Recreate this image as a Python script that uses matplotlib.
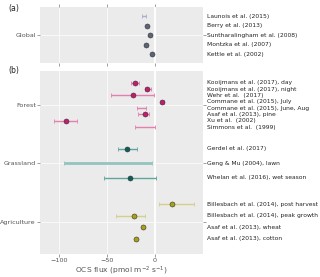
import numpy as np
import matplotlib
matplotlib.use("Agg")
import matplotlib.pyplot as plt
import matplotlib.transforms as mtransforms

# ------------------------------------------------------------
# data (OCS flux, pmol m-2 s-1); nan = no central estimate
# ------------------------------------------------------------
global_labels = ["Launois et al. (2015)", "Berry et al. (2013)",
                 "Suntharalingham et al. (2008)", "Montzka et al. (2007)",
                 "Kettle et al. (2002)"]
global_mid = [np.nan, -8.0, -4.5, -9.0, -2.4]
global_lo = [-12.9, np.nan, np.nan, np.nan, np.nan]
global_hi = [-9.4, np.nan, np.nan, np.nan, np.nan]

forest_labels = ["Kooijmans et al. (2017), day", "Kooijmans et al. (2017), night",
                 "Wehr et al.  (2017)", "Commane et al. (2015), July",
                 "Commane et al. (2015), June, Aug", "Asaf et al. (2013), pine",
                 "Xu et al.  (2002)", "Simmons et al.  (1999)"]
forest_mid = [-20.5, -7.6, -22.6, 7.9, np.nan, -10.5, -93.1, np.nan]
forest_lo = [-24.7, -10.7, -46.0, 6.2, -18.8, -17.7, -104.9, -21.1]
forest_hi = [-16.1, -4.2, -0.4, 9.7, -8.8, -5.9, -81.6, 0.0]

grass_labels = ["Gerdel et al. (2017)", "Geng & Mu (2004), lawn",
                "Whelan et al. (2016), wet season"]
grass_mid = [-28.5, np.nan, -26.0]
grass_lo = [-38.5, -94.8, -53.1]
grass_hi = [-18.4, -2.8, 1.4]

agri_labels = ["Billesbach et al. (2014), post harvest",
               "Billesbach et al. (2014), peak growth",
               "Asaf et al. (2013), wheat", "Asaf et al. (2013), cotton"]
agri_mid = [18.3, -21.2, -12.5, -19.8]
agri_lo = [4.2, -40.0, np.nan, np.nan]
agri_hi = [40.6, -9.8, np.nan, np.nan]

categories_b = ["Forest", "Grassland", "Agriculture"]

# style per group: dot colour, errorbar colour, dodge width
STYLE = {
    "Global": ("#5d6478", "#a9aed0", 0.82),
    "Forest": ("#c51b6f", "#e47fae", 0.87),
    "Grassland": ("#0b5f59", "#5fa59c", 0.75),
    "Agriculture": ("#a9a014", "#d4d08a", 0.79),
}

BG = "#ebebeb"
TXT = "#555555"
FS_TICK = 4.6
FS_LAB = 4.3


def style_axes(ax):
    ax.set_facecolor(BG)
    for s in ax.spines.values():
        s.set_visible(False)
    ax.set_xlim(-120, 50)
    ax.set_xticks([-100, -50, 0])
    ax.grid(True, color="white", linewidth=0.5)
    ax.axvline(0, color="white", linewidth=1.3, zorder=0.6)
    ax.set_axisbelow(True)
    ax.tick_params(colors="#777777", labelcolor=TXT, labelsize=FS_TICK,
                   length=2, width=0.5, pad=1.0, right=True)


def draw_group(ax, name, pos, labels, mid, lo, hi, thick=None):
    dot_c, err_c, w = STYLE[name]
    n = len(labels)
    step = w / n
    trans = mtransforms.blended_transform_factory(ax.transAxes, ax.transData)
    for i in range(n):
        y = pos + (i - (n - 1) / 2) * step
        if not np.isnan(lo[i]):
            lw = 1.0
            c = err_c
            if thick is not None and i == thick:
                lw = 2.0
                c = "#93c4bf"
            ax.errorbar([(lo[i] + hi[i]) / 2], [y],
                        xerr=[[(hi[i] - lo[i]) / 2]], fmt="none",
                        ecolor=c, elinewidth=lw, capsize=1.5,
                        capthick=0.6, zorder=2)
        if not np.isnan(mid[i]):
            ax.plot(mid[i], y, "o", ms=3.6, color=dot_c,
                    mec="#333333", mew=0.4, zorder=3)
        ax.text(1.028, y, labels[i], transform=trans, fontsize=FS_LAB,
                color="#222222", va="center", ha="left")


fig = plt.figure(figsize=(3.2, 2.77), dpi=100)

# ---- panel (a): global estimates
ax_a = fig.add_axes([0.125, 0.7715, 0.508, 0.2025])
style_axes(ax_a)
draw_group(ax_a, "Global", 1, global_labels, global_mid, global_lo, global_hi)
ax_a.set_ylim(1.48, 0.52)
ax_a.set_yticks([1])
ax_a.set_yticklabels(["Global"])
ax_a.tick_params(axis="x", top=True, labelbottom=False)

# ---- panel (b): site measurements
ax_b = fig.add_axes([0.125, 0.083, 0.508, 0.661])
style_axes(ax_b)
draw_group(ax_b, "Forest", 1, forest_labels, forest_mid, forest_lo, forest_hi)
draw_group(ax_b, "Grassland", 2, grass_labels, grass_mid, grass_lo, grass_hi,
           thick=1)
draw_group(ax_b, "Agriculture", 3, agri_labels, agri_mid, agri_lo, agri_hi)
ax_b.set_ylim(3.554, 0.417)
ax_b.set_yticks([1, 2, 3])
ax_b.set_yticklabels(categories_b)
ax_b.set_xlabel("OCS flux (pmol m$^{-2}$ s$^{-1}$)", fontsize=5.4,
                color=TXT, labelpad=0.8)

fig.text(0.025, 0.985, "(a)", fontsize=5.6, color="#222222", va="top")
fig.text(0.025, 0.760, "(b)", fontsize=5.6, color="#222222", va="top")

fig.savefig("out.png", dpi=100)
